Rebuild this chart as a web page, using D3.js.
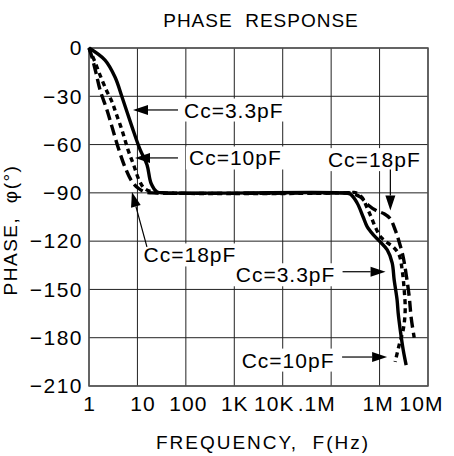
<!DOCTYPE html>
<html>
<head>
<meta charset="utf-8">
<script src="https://cdn.jsdelivr.net/npm/d3@7"></script>
<style>
  html, body { margin: 0; padding: 0; background: #fff; }
  svg { display: block; }
  text { font-family: 'Liberation Sans', Arial, sans-serif; fill: #000; }
</style>
</head>
<body>
<svg id="chart" width="454" height="456"></svg>
<script>
// x ticks (Hz) and their printed labels
const freqTicks = [1, 10, 100, 1e3, 1e4, 1e5, 1e6, 1e7]
const freqLabels = ['1', '10', '100', '1K', '10K', '.1M', '1M', '10M']
const phaseTicks = [0, -30, -60, -90, -120, -150, -180, -210]

// [frequency Hz, phase deg]
const cc33 = [
  [1, 0], [2.14, -7.5], [3.44, -18], [4.81, -30.4], [7.73, -49], [11.3, -63],
  [15.8, -72.7], [19.1, -84], [25.4, -89.4], [37, -90], [153e3, -90],
  [247e3, -90.7], [344e3, -96.3], [458e3, -105], [554e3, -111], [738e3, -116],
  [1.03e6, -120.5], [1.44e6, -125.5], [1.82e6, -133.5], [2.0e6, -144],
  [2.3e6, -156.5], [2.42e6, -164.6], [2.67e6, -175], [3.08e6, -187.6], [3.54e6, -197],
]
const cc10 = [
  [1, 0], [1.33, -8.7], [1.75, -18], [2.35, -27], [2.99, -33.5], [3.6, -40.4],
  [4.8, -51], [6.4, -63.3], [8.5, -73.3], [10.8, -82], [13.7, -87], [20, -89.4],
  [30, -90], [250e3, -90], [313e3, -89.8], [437e3, -93], [554e3, -99.4],
  [670e3, -105], [811e3, -111], [1.03e6, -117], [1.37e6, -120.5], [1.91e6, -123.6],
  [2.54e6, -128.6], [2.93e6, -138], [3.22e6, -150], [3.38e6, -163], [3.08e6, -175],
  [2.54e6, -184.5], [2.1e6, -195],
]
const cc18 = [
  [1, 0], [1.15, -5.6], [1.395, -15.5], [1.69, -26], [2.35, -38.5], [2.99, -49],
  [3.97, -61.5], [5.54, -74], [7.73, -83], [10.3, -87], [14.3, -89.5], [20, -90],
  [200e3, -90], [247e3, -90], [397e3, -92.5], [580e3, -97.5], [851e3, -101],
  [1.24e6, -103], [1.66e6, -106], [2.1e6, -113], [2.54e6, -120.5], [3.08e6, -130],
  [3.55e6, -141], [4.1e6, -154.7], [4.5e6, -167.7], [5.19e6, -180],
]

const margin = { left: 89, right: 26, top: 48, bottom: 70 }
const W = 454, H = 456
const svg = d3.select('#chart')

const x = d3.scaleLog().domain([1, 1e7]).range([margin.left, W - margin.right])
const y = d3.scaleLinear().domain([0, -210]).range([margin.top, H - margin.bottom])

// grid
const grid = svg.append('g')
grid.selectAll('line.v').data(freqTicks).enter().append('line')
  .attr('x1', (d) => x(d)).attr('x2', (d) => x(d))
  .attr('y1', y(0)).attr('y2', y(-210))
  .attr('stroke', '#222').attr('stroke-width', 1)
grid.selectAll('line.h').data(phaseTicks).enter().append('line')
  .attr('x1', x(1)).attr('x2', x(1e7))
  .attr('y1', (d) => y(d)).attr('y2', (d) => y(d))
  .attr('stroke', '#222').attr('stroke-width', 1)
svg.append('rect')
  .attr('x', x(1)).attr('y', y(0))
  .attr('width', x(1e7) - x(1)).attr('height', y(-210) - y(0))
  .attr('fill', 'none').attr('stroke', '#555').attr('stroke-width', 1.5)

const fontFam = "'Liberation Sans', Arial, sans-serif"

// axes (labels only, the grid does the lines)
const xAxis = svg.append('g')
  .attr('transform', `translate(0,${y(-210)})`)
  .call(d3.axisBottom(x).tickValues(freqTicks).tickFormat((d, i) => freqLabels[i]).tickSize(0).tickPadding(10))
xAxis.select('.domain').remove()
// labels are squeezed in the original, nudge them a little
const nudge = [0, 5, 2, 0, -9, -15, -2, -7]
xAxis.selectAll('text')
  .attr('dx', (d, i) => nudge[i])
  .style('font-size', '21px').style('letter-spacing', '1px').style('font-family', fontFam).attr('fill', '#000')

const yAxis = svg.append('g')
  .attr('transform', `translate(${x(1)},0)`)
  .call(d3.axisLeft(y).tickValues(phaseTicks).tickFormat((d) => (d < 0 ? '\u2212' + (-d) : d)).tickSize(0).tickPadding(6))
yAxis.select('.domain').remove()
yAxis.selectAll('text')
  .style('font-size', '21px').style('letter-spacing', '1.5px').style('font-family', fontFam).attr('fill', '#000')

// titles
svg.append('text').attr('x', 261).attr('y', 27).attr('text-anchor', 'middle')
  .style('font-size', '19px').style('letter-spacing', '1px').style('white-space', 'pre')
  .text('PHASE  RESPONSE')
svg.append('text').attr('x', 263).attr('y', 449).attr('text-anchor', 'middle')
  .style('font-size', '19px').style('letter-spacing', '2px').style('white-space', 'pre')
  .text('FREQUENCY,  F(Hz)')
svg.append('text').attr('transform', 'translate(17,230) rotate(-90)').attr('text-anchor', 'middle')
  .style('font-size', '19px').style('letter-spacing', '1.5px').style('white-space', 'pre')
  .text('PHASE,  \u03c6(\u00b0)')

// curves
const line = d3.line()
  .x((d) => x(d[0])).y((d) => y(d[1]))
  .curve(d3.curveCatmullRom.alpha(0.5))

const series = [
  { data: cc33, dash: null },
  { data: cc10, dash: '5,4' },
  { data: cc18, dash: '11,5' },
]
svg.append('g').selectAll('path').data(series).enter().append('path')
  .attr('d', (d) => line(d.data))
  .attr('fill', 'none').attr('stroke', '#000').attr('stroke-width', 3.4)
  .attr('stroke-dasharray', (d) => d.dash)

// annotations: arrow tip in data units, tail and text in pixels from the tip
const notes = [
  { label: 'Cc=3.3pF', tip: [8.1, -38.5], tail: [45, 0], text: [51, 0], anchor: 'start' },
  { label: 'Cc=10pF', tip: [8.9, -68.3], tail: [43, 0], text: [54, 0], anchor: 'start' },
  { label: 'Cc=18pF', tip: [7.7, -89.4], tail: [15, 55], text: [58, 63], anchor: 'middle' },
  { label: 'Cc=18pF', tip: [1.67e6, -101], tail: [0, -41], text: [-16, -51], anchor: 'middle' },
  { label: 'Cc=3.3pF', tip: [1.33e6, -139], tail: [-43, 0], text: [-100, 3], anchor: 'middle' },
  { label: 'Cc=10pF', tip: [1.43e6, -192], tail: [-45, 0], text: [-99, 3], anchor: 'middle' },
]

const ann = svg.append('g')
notes.forEach((n) => {
  const tx = x(n.tip[0]), ty = y(n.tip[1])
  const t = ann.append('text')
    .attr('x', tx + n.text[0]).attr('y', ty + n.text[1])
    .attr('dy', '0.36em').attr('text-anchor', n.anchor)
    .style('font-size', '21px').style('letter-spacing', '1px')
    .text(n.label)
  const bb = t.node().getBBox()
  ann.insert('rect', () => t.node())
    .attr('x', bb.x - 3).attr('y', bb.y)
    .attr('width', bb.width + 6).attr('height', bb.height)
    .attr('fill', '#fff')

  const x0 = tx + n.tail[0], y0 = ty + n.tail[1]
  const ang = Math.atan2(ty - y0, tx - x0)
  const len = 15, half = 5
  const bx = tx - len * Math.cos(ang), by = ty - len * Math.sin(ang)
  ann.append('line')
    .attr('x1', x0).attr('y1', y0).attr('x2', bx).attr('y2', by)
    .attr('stroke', '#000').attr('stroke-width', 1.2)
  ann.append('path')
    .attr('d', `M${tx},${ty}L${bx + half * Math.sin(ang)},${by - half * Math.cos(ang)}L${bx - half * Math.sin(ang)},${by + half * Math.cos(ang)}Z`)
    .attr('fill', '#000')
})
</script>
</body>
</html>
